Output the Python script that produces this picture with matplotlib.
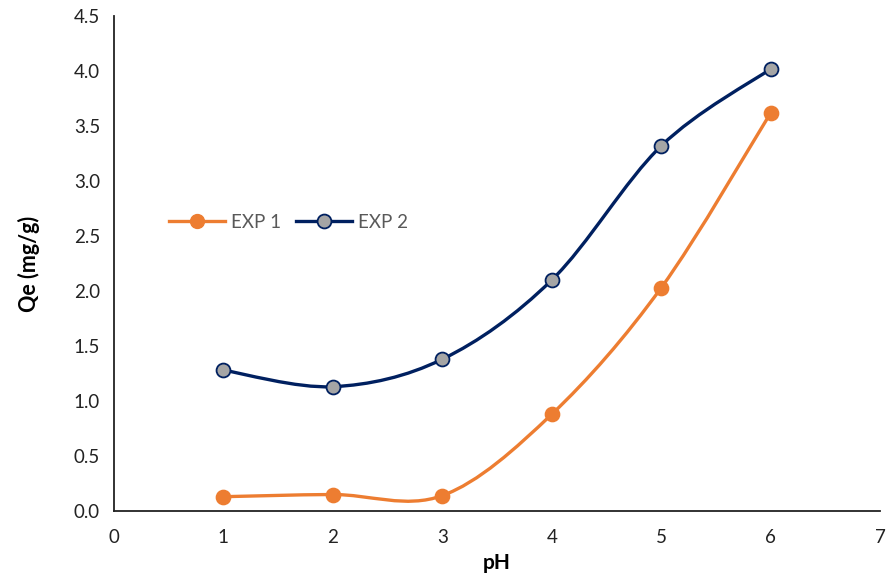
import numpy as np
import matplotlib.pyplot as plt
from matplotlib.path import Path
from matplotlib.patches import PathPatch
from matplotlib.lines import Line2D

plt.rcParams['font.family'] = ['Lato', 'DejaVu Sans']

ph = [1, 2, 3, 4, 5, 6]
exp1 = [0.13, 0.15, 0.14, 0.88, 2.03, 3.62]
exp2 = [1.28, 1.13, 1.38, 2.10, 3.32, 4.02]

orange = '#ED7D31'
navy = '#002060'
grey = '#A5A5A5'


def smooth_path(x, y):
    # cubic bezier segments through the points (catmull-rom style, like Excel's smoothed line)
    p = np.column_stack([x, y]).astype(float)
    n = len(p)
    verts = [p[0]]
    codes = [Path.MOVETO]
    for i in range(n - 1):
        p0 = p[i - 1] if i > 0 else p[i]
        p3 = p[i + 2] if i + 2 < n else p[i + 1]
        c1 = p[i] + (p[i + 1] - p0) / 6
        c2 = p[i + 1] - (p3 - p[i]) / 6
        verts += [c1, c2, p[i + 1]]
        codes += [Path.CURVE4] * 3
    return Path(verts, codes)


fig = plt.figure(figsize=(8.9, 5.83), dpi=100)
ax = fig.add_axes([0.128, 0.1235, 0.861, 0.849])

for ys, col, face in [(exp1, orange, orange), (exp2, navy, grey)]:
    ax.add_patch(PathPatch(smooth_path(ph, ys), facecolor='none', edgecolor=col,
                           lw=2.4, zorder=2, capstyle='round'))
    ax.plot(ph, ys, ls='none', marker='o', ms=10, mfc=face, mec=col,
            mew=1.3, zorder=3)

ax.set_xlim(0, 7)
ax.set_ylim(0, 4.5)
ax.set_xticks(range(0, 8))
ax.set_yticks(np.arange(0, 4.51, 0.5))
ax.set_yticklabels([f'{v:.1f}' for v in np.arange(0, 4.51, 0.5)])
ax.tick_params(length=0, labelsize=13.5, colors='#222222', pad=10)
ax.tick_params(axis='x', pad=13)
for s in ['top', 'right']:
    ax.spines[s].set_visible(False)
for s in ['left', 'bottom']:
    ax.spines[s].set_linewidth(1.3)
    ax.spines[s].set_color('#222222')

ax.set_xlabel('pH', fontsize=15, fontweight='bold', labelpad=5)
ax.set_ylabel('Qe (mg/g)', fontsize=15.5, fontweight='bold', labelpad=24)

handles = [
    Line2D([], [], color=orange, lw=2.4, marker='o', ms=10, mfc=orange, mec=orange),
    Line2D([], [], color=navy, lw=2.4, marker='o', ms=10, mfc=grey, mec=navy, mew=1.3),
]
ax.legend(handles, ['EXP 1', 'EXP 2'], loc='center left', bbox_to_anchor=(0.05, 0.583),
          ncol=2, frameon=False, fontsize=13.5, labelcolor='#595959',
          handlelength=3, columnspacing=0.8, handletextpad=0.3)

fig.savefig('out.png', dpi=100)
